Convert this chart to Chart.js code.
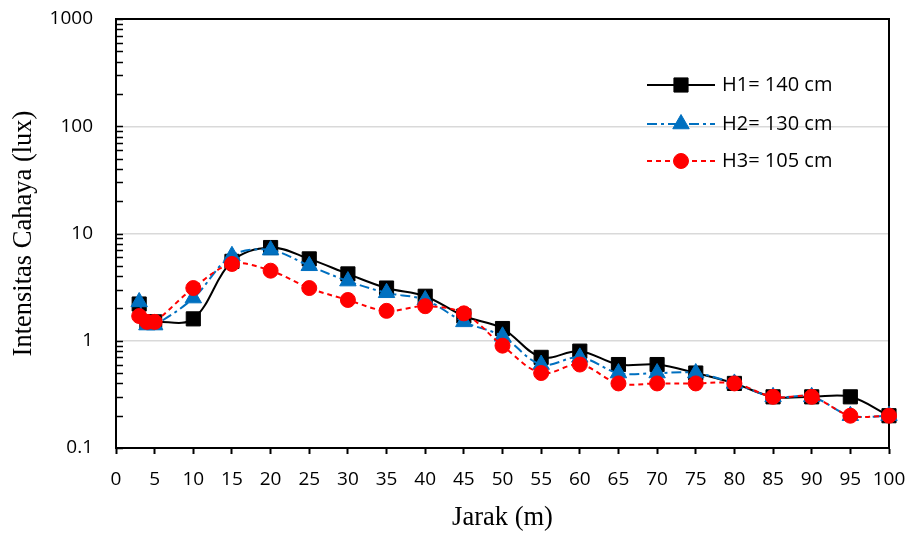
<!DOCTYPE html>
<html>
<head>
<meta charset="utf-8">
<script src="https://cdn.jsdelivr.net/npm/chart.js@4.4.1/dist/chart.umd.min.js"></script>
<style>
html, body { margin: 0; padding: 0; background: #fff; }
#wrap { width: 909px; height: 534px; }
</style>
</head>
<body>
<div id="wrap"><canvas id="lightChart" width="909" height="534"></canvas></div>
<script>
// distance along the road (m)
const jarak = [3, 4, 5, 10, 15, 20, 25, 30, 35, 40, 45, 50, 55, 60, 65, 70, 75, 80, 85, 90, 95, 100];

// light intensity (lux) for each lamp height
const h1 = [2.2, 1.5, 1.5, 1.6, 5.5, 7.4, 5.8, 4.2, 3.1, 2.6, 1.7, 1.3, 0.7, 0.8, 0.6, 0.6, 0.5, 0.4, 0.3, 0.3, 0.3, 0.2];
const h2 = [2.3, 1.4, 1.4, 2.5, 6.2, 7.0, 5.0, 3.6, 2.8, 2.4, 1.5, 1.1, 0.6, 0.7, 0.5, 0.5, 0.5, 0.4, 0.3, 0.3, 0.2, 0.2];
const h3 = [1.7, 1.5, 1.5, 3.1, 5.2, 4.5, 3.1, 2.4, 1.9, 2.1, 1.8, 0.9, 0.5, 0.6, 0.4, 0.4, 0.4, 0.4, 0.3, 0.3, 0.2, 0.2];

const seriesNames = ['H1= 140 cm', 'H2= 130 cm', 'H3= 105 cm'];
const yDecades = [0.1, 1, 10, 100, 1000];

const tickFont = { family: 'Open Sans', size: 19 };
const titleFont = { family: 'Liberation Serif', size: 26.5 };

function toPoints(values) {
    return jarak.map((x, i) => ({ x: x, y: values[i] }));
}

// box around the plot + small inward ticks on the log axis
const frameTicks = {
    id: 'frameTicks',
    beforeDatasetsDraw(chart) {
        const { ctx, chartArea: a } = chart;
        const yScale = chart.scales.y;
        ctx.save();
        ctx.strokeStyle = '#000';
        ctx.lineWidth = 2;
        ctx.beginPath();
        ctx.moveTo(a.left, a.top);
        ctx.lineTo(a.right, a.top);
        ctx.lineTo(a.right, a.bottom);
        ctx.stroke();
        ctx.lineWidth = 1.5;
        yScale.ticks.forEach(t => {
            const py = Math.round(yScale.getPixelForValue(t.value)) + 0.5;
            ctx.beginPath();
            ctx.moveTo(a.left, py);
            ctx.lineTo(a.left + 7, py);
            ctx.stroke();
        });
        ctx.restore();
    }
};

// legend drawn inside the plot, top right
const innerLegend = {
    id: 'innerLegend',
    afterDraw(chart) {
        const { ctx, chartArea: a } = chart;
        const x0 = a.right - 242, x1 = a.right - 174, tx = a.right - 167;
        const rows = [85, 124, 161];
        ctx.save();
        chart.data.datasets.forEach((ds, i) => {
            const y = rows[i];
            ctx.strokeStyle = ds.borderColor;
            ctx.lineWidth = ds.borderWidth;
            ctx.setLineDash(ds.borderDash || []);
            ctx.beginPath();
            ctx.moveTo(x0, y);
            ctx.lineTo(x1, y);
            ctx.stroke();
            ctx.setLineDash([]);
            ctx.fillStyle = ds.pointBackgroundColor;
            ctx.strokeStyle = ds.pointBorderColor;
            ctx.lineWidth = 1;
            Chart.helpers.drawPoint(ctx, {
                pointStyle: ds.pointStyle,
                radius: ds.pointRadius,
                rotation: 0,
                borderWidth: 1
            }, (x0 + x1) / 2, y);
            ctx.fillStyle = '#000';
            ctx.font = '20px "Open Sans"';
            ctx.textBaseline = 'middle';
            ctx.textAlign = 'left';
            ctx.fillText(seriesNames[i], tx, y);
        });
        ctx.restore();
    }
};

const ctx = document.getElementById('lightChart').getContext('2d');
new Chart(ctx, {
    type: 'line',
    data: {
        datasets: [{
            label: seriesNames[0],
            data: toPoints(h1),
            borderColor: '#000000',
            borderWidth: 2,
            pointStyle: 'rect',
            pointRadius: 10,
            pointBackgroundColor: '#000000',
            pointBorderColor: '#000000',
            pointBorderWidth: 1,
            tension: 0.35,
            clip: false,
            order: 2
        }, {
            label: seriesNames[1],
            data: toPoints(h2),
            borderColor: '#0070C0',
            borderWidth: 2,
            borderDash: [10, 4, 3, 4],
            pointStyle: 'triangle',
            pointRadius: 9.5,
            pointBackgroundColor: '#0070C0',
            pointBorderColor: '#0070C0',
            pointBorderWidth: 1,
            tension: 0.35,
            clip: false,
            order: 1
        }, {
            label: seriesNames[2],
            data: toPoints(h3),
            borderColor: '#FF0000',
            borderWidth: 2,
            borderDash: [5, 4],
            pointStyle: 'circle',
            pointRadius: 7.5,
            pointBackgroundColor: '#FF0000',
            pointBorderColor: '#FF0000',
            pointBorderWidth: 1,
            tension: 0.35,
            clip: false,
            order: 0
        }]
    },
    options: {
        responsive: false,
        animation: false,
        devicePixelRatio: 1,
        layout: { padding: { top: 19, right: 20, left: 0, bottom: 0 } },
        plugins: {
            legend: { display: false },
            tooltip: { enabled: false }
        },
        scales: {
            x: {
                type: 'linear',
                min: 0,
                max: 100,
                ticks: {
                    stepSize: 5,
                    color: '#000',
                    font: tickFont,
                    padding: 14,
                    maxRotation: 0,
                    autoSkip: false
                },
                grid: {
                    drawOnChartArea: false,
                    drawTicks: true,
                    tickLength: 6,
                    tickColor: '#000',
                    tickWidth: 2
                },
                border: { color: '#000', width: 2 },
                title: {
                    display: true,
                    text: 'Jarak (m)',
                    color: '#000',
                    font: titleFont,
                    padding: { top: 0, bottom: 0 }
                },
                afterFit(s) {
                    s.height = 86;
                    s.paddingLeft = 0;
                    s.paddingRight = 0;
                }
            },
            y: {
                type: 'logarithmic',
                min: 0.1,
                max: 1000,
                afterBuildTicks(s) {
                    const list = [];
                    for (let k = 0; k < yDecades.length - 1; k++) {
                        for (let m = 1; m <= 9; m++) {
                            list.push({ value: parseFloat((yDecades[k] * m).toPrecision(3)) });
                        }
                    }
                    list.push({ value: yDecades[yDecades.length - 1] });
                    s.ticks = list;
                },
                ticks: {
                    color: '#000',
                    font: tickFont,
                    padding: 23,
                    autoSkip: false,
                    callback: v => yDecades.includes(v) ? String(v) : ''
                },
                grid: {
                    drawTicks: false,
                    lineWidth: 1.5,
                    color: c => (c.tick && yDecades.includes(c.tick.value)) ? '#d9d9d9' : 'rgba(0,0,0,0)'
                },
                border: { color: '#000', width: 2 },
                title: {
                    display: true,
                    text: 'Intensitas Cahaya (lux)',
                    color: '#000',
                    font: titleFont,
                    padding: { top: 8, bottom: 0 }
                },
                afterFit(s) {
                    s.width = 116;
                    s.paddingTop = 0;
                    s.paddingBottom = 0;
                }
            }
        }
    },
    plugins: [frameTicks, innerLegend]
});
</script>
</body>
</html>
